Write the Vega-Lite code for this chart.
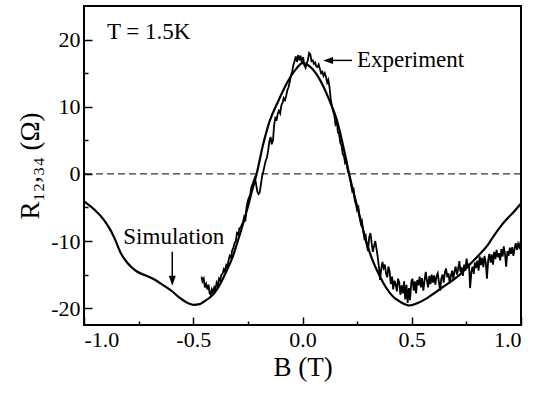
{
  "$schema": "https://vega.github.io/schema/vega-lite/v6.json",
  "width": 437,
  "height": 319,
  "autosize": "none",
  "padding": {"left": 84, "top": 6, "right": 21, "bottom": 76},
  "background": "white",
  "config": {
    "view": {"stroke": "black", "strokeWidth": 2},
    "font": "'Liberation Serif', 'Times New Roman', 'DejaVu Serif', serif",
    "axis": {"grid": false, "domain": false, "labelFont": "'Liberation Serif', 'Times New Roman', 'DejaVu Serif', serif", "titleFont": "'Liberation Serif', 'Times New Roman', 'DejaVu Serif', serif", "labelColor": "black", "titleColor": "black", "tickColor": "black", "tickWidth": 1.5, "titleFontWeight": "normal"}
  },
  "datasets": {
    "sim": [
      {"B": -1.00, "R": -4.1}, {"B": -0.95, "R": -5.4}, {"B": -0.91, "R": -6.8}, {"B": -0.88, "R": -8.3},
      {"B": -0.86, "R": -9.6}, {"B": -0.83, "R": -11.9}, {"B": -0.80, "R": -13.3}, {"B": -0.76, "R": -14.5},
      {"B": -0.72, "R": -15.1}, {"B": -0.68, "R": -15.7}, {"B": -0.65, "R": -16.3}, {"B": -0.60, "R": -17.4},
      {"B": -0.56, "R": -18.5}, {"B": -0.52, "R": -19.3}, {"B": -0.50, "R": -19.5}, {"B": -0.47, "R": -19.4},
      {"B": -0.45, "R": -19.0}, {"B": -0.42, "R": -18.3}, {"B": -0.40, "R": -17.6}, {"B": -0.37, "R": -16.0},
      {"B": -0.35, "R": -14.6}, {"B": -0.32, "R": -12.4}, {"B": -0.30, "R": -10.4}, {"B": -0.27, "R": -7.2},
      {"B": -0.25, "R": -4.9}, {"B": -0.23, "R": -2.4}, {"B": -0.21, "R": 0.0}, {"B": -0.18, "R": 4.4},
      {"B": -0.15, "R": 7.9}, {"B": -0.11, "R": 10.9}, {"B": -0.07, "R": 13.6}, {"B": -0.03, "R": 15.6},
      {"B": 0.00, "R": 16.5}, {"B": 0.04, "R": 15.8}, {"B": 0.08, "R": 14.0}, {"B": 0.12, "R": 11.2},
      {"B": 0.16, "R": 7.7}, {"B": 0.19, "R": 3.6}, {"B": 0.21, "R": 0.5}, {"B": 0.23, "R": -2.3},
      {"B": 0.25, "R": -4.8}, {"B": 0.27, "R": -7.4}, {"B": 0.29, "R": -9.9}, {"B": 0.32, "R": -12.8},
      {"B": 0.355, "R": -15.3}, {"B": 0.38, "R": -16.8}, {"B": 0.415, "R": -18.3}, {"B": 0.45, "R": -19.1},
      {"B": 0.49, "R": -19.6}, {"B": 0.53, "R": -19.2}, {"B": 0.57, "R": -18.5}, {"B": 0.61, "R": -17.6},
      {"B": 0.64, "R": -16.9}, {"B": 0.68, "R": -16.0}, {"B": 0.72, "R": -15.0}, {"B": 0.75, "R": -14.0},
      {"B": 0.78, "R": -13.0}, {"B": 0.81, "R": -12.0}, {"B": 0.83, "R": -11.3}, {"B": 0.85, "R": -10.5},
      {"B": 0.87, "R": -9.5}, {"B": 0.90, "R": -8.1}, {"B": 0.93, "R": -6.9}, {"B": 0.96, "R": -5.9},
      {"B": 1.00, "R": -4.4}
    ],
    "exp": [
      {"B": -0.462, "R": -15.3}, {"B": -0.458, "R": -16.0}, {"B": -0.452, "R": -15.6}, {"B": -0.447, "R": -16.9},
      {"B": -0.441, "R": -16.4}, {"B": -0.436, "R": -17.2}, {"B": -0.430, "R": -16.5}, {"B": -0.425, "R": -17.8},
      {"B": -0.420, "R": -18.0}, {"B": -0.415, "R": -17.2}, {"B": -0.410, "R": -17.6}, {"B": -0.404, "R": -16.9},
      {"B": -0.399, "R": -17.3}, {"B": -0.393, "R": -16.2}, {"B": -0.388, "R": -16.6}, {"B": -0.382, "R": -15.6},
      {"B": -0.377, "R": -15.9}, {"B": -0.371, "R": -15.0}, {"B": -0.366, "R": -14.9}, {"B": -0.360, "R": -14.2},
      {"B": -0.355, "R": -14.5}, {"B": -0.349, "R": -13.6}, {"B": -0.344, "R": -13.9}, {"B": -0.338, "R": -12.8},
      {"B": -0.333, "R": -12.2}, {"B": -0.327, "R": -12.5}, {"B": -0.322, "R": -11.4}, {"B": -0.316, "R": -11.0},
      {"B": -0.311, "R": -10.3}, {"B": -0.305, "R": -10.0}, {"B": -0.300, "R": -8.8}, {"B": -0.294, "R": -9.0},
      {"B": -0.289, "R": -8.1}, {"B": -0.283, "R": -8.0}, {"B": -0.278, "R": -7.6}, {"B": -0.272, "R": -7.2},
      {"B": -0.267, "R": -6.4}, {"B": -0.261, "R": -6.8}, {"B": -0.256, "R": -5.0}, {"B": -0.250, "R": -4.0},
      {"B": -0.245, "R": -3.5}, {"B": -0.240, "R": -3.2}, {"B": -0.234, "R": -2.0}, {"B": -0.229, "R": -1.6},
      {"B": -0.223, "R": -1.0}, {"B": -0.218, "R": -0.6}, {"B": -0.213, "R": -1.4}, {"B": -0.207, "R": -2.6},
      {"B": -0.201, "R": -3.0}, {"B": -0.196, "R": -2.8}, {"B": -0.190, "R": -1.5}, {"B": -0.185, "R": -0.4},
      {"B": -0.179, "R": 0.4}, {"B": -0.174, "R": 1.2}, {"B": -0.168, "R": 2.0}, {"B": -0.163, "R": 2.4},
      {"B": -0.157, "R": 3.5}, {"B": -0.152, "R": 4.8}, {"B": -0.146, "R": 5.5}, {"B": -0.141, "R": 4.4},
      {"B": -0.135, "R": 5.0}, {"B": -0.130, "R": 7.2}, {"B": -0.124, "R": 8.5}, {"B": -0.119, "R": 7.9},
      {"B": -0.113, "R": 9.0}, {"B": -0.108, "R": 9.4}, {"B": -0.102, "R": 9.0}, {"B": -0.097, "R": 10.2},
      {"B": -0.091, "R": 10.6}, {"B": -0.086, "R": 11.3}, {"B": -0.080, "R": 11.0}, {"B": -0.075, "R": 11.6},
      {"B": -0.069, "R": 12.5}, {"B": -0.064, "R": 12.9}, {"B": -0.058, "R": 13.8}, {"B": -0.053, "R": 14.6},
      {"B": -0.047, "R": 15.3}, {"B": -0.042, "R": 16.2}, {"B": -0.036, "R": 16.8}, {"B": -0.031, "R": 17.5},
      {"B": -0.025, "R": 16.7}, {"B": -0.020, "R": 17.7}, {"B": -0.014, "R": 16.9}, {"B": -0.009, "R": 17.6},
      {"B": -0.003, "R": 16.5}, {"B": 0.003, "R": 17.4}, {"B": 0.008, "R": 16.2}, {"B": 0.014, "R": 15.8},
      {"B": 0.019, "R": 16.4}, {"B": 0.025, "R": 17.0}, {"B": 0.030, "R": 18.0}, {"B": 0.036, "R": 17.8},
      {"B": 0.041, "R": 16.8}, {"B": 0.047, "R": 16.9}, {"B": 0.052, "R": 16.4}, {"B": 0.058, "R": 16.6},
      {"B": 0.063, "R": 16.0}, {"B": 0.069, "R": 15.9}, {"B": 0.074, "R": 16.3}, {"B": 0.080, "R": 15.6},
      {"B": 0.085, "R": 15.0}, {"B": 0.091, "R": 15.2}, {"B": 0.096, "R": 14.6}, {"B": 0.102, "R": 15.0},
      {"B": 0.107, "R": 14.5}, {"B": 0.113, "R": 13.6}, {"B": 0.118, "R": 14.0}, {"B": 0.124, "R": 12.8},
      {"B": 0.129, "R": 11.2}, {"B": 0.135, "R": 10.0}, {"B": 0.140, "R": 9.4}, {"B": 0.146, "R": 8.6},
      {"B": 0.151, "R": 7.4}, {"B": 0.157, "R": 7.8}, {"B": 0.162, "R": 6.2}, {"B": 0.168, "R": 5.9},
      {"B": 0.173, "R": 4.6}, {"B": 0.179, "R": 4.2}, {"B": 0.184, "R": 3.0}, {"B": 0.190, "R": 2.6},
      {"B": 0.195, "R": 1.6}, {"B": 0.201, "R": 1.9}, {"B": 0.206, "R": 0.6}, {"B": 0.212, "R": 0.0},
      {"B": 0.217, "R": -0.6}, {"B": 0.223, "R": -1.8}, {"B": 0.228, "R": -2.6}, {"B": 0.234, "R": -2.3},
      {"B": 0.239, "R": -3.9}, {"B": 0.245, "R": -4.6}, {"B": 0.250, "R": -5.4}, {"B": 0.256, "R": -5.0},
      {"B": 0.261, "R": -6.4}, {"B": 0.267, "R": -7.4}, {"B": 0.272, "R": -7.0}, {"B": 0.278, "R": -8.5},
      {"B": 0.283, "R": -9.6}, {"B": 0.289, "R": -9.2}, {"B": 0.294, "R": -10.6}, {"B": 0.300, "R": -11.5},
      {"B": 0.305, "R": -9.5}, {"B": 0.311, "R": -8.8}, {"B": 0.316, "R": -10.2}, {"B": 0.322, "R": -11.6},
      {"B": 0.327, "R": -10.8}, {"B": 0.333, "R": -10.0}, {"B": 0.338, "R": -11.0}, {"B": 0.344, "R": -12.3},
      {"B": 0.349, "R": -13.6}, {"B": 0.355, "R": -15.8}, {"B": 0.360, "R": -14.2}, {"B": 0.366, "R": -13.1},
      {"B": 0.371, "R": -14.0}, {"B": 0.377, "R": -13.5}, {"B": 0.382, "R": -14.8}, {"B": 0.388, "R": -15.4},
      {"B": 0.393, "R": -13.8}, {"B": 0.399, "R": -14.6}, {"B": 0.404, "R": -16.4}, {"B": 0.410, "R": -15.3},
      {"B": 0.415, "R": -17.2}, {"B": 0.421, "R": -15.9}, {"B": 0.426, "R": -16.4}, {"B": 0.432, "R": -17.5},
      {"B": 0.437, "R": -15.6}, {"B": 0.443, "R": -16.2}, {"B": 0.448, "R": -18.0}, {"B": 0.454, "R": -16.6},
      {"B": 0.459, "R": -17.8}, {"B": 0.465, "R": -16.0}, {"B": 0.470, "R": -18.7}, {"B": 0.476, "R": -16.5},
      {"B": 0.481, "R": -19.2}, {"B": 0.487, "R": -17.0}, {"B": 0.492, "R": -18.8}, {"B": 0.498, "R": -16.1},
      {"B": 0.503, "R": -15.6}, {"B": 0.509, "R": -17.4}, {"B": 0.514, "R": -16.0}, {"B": 0.520, "R": -17.8},
      {"B": 0.525, "R": -15.8}, {"B": 0.531, "R": -16.6}, {"B": 0.536, "R": -15.3}, {"B": 0.542, "R": -16.9},
      {"B": 0.547, "R": -15.5}, {"B": 0.553, "R": -17.4}, {"B": 0.558, "R": -16.0}, {"B": 0.564, "R": -14.6},
      {"B": 0.569, "R": -15.8}, {"B": 0.575, "R": -16.9}, {"B": 0.580, "R": -15.2}, {"B": 0.586, "R": -16.4},
      {"B": 0.591, "R": -15.0}, {"B": 0.597, "R": -16.2}, {"B": 0.602, "R": -15.1}, {"B": 0.608, "R": -16.5},
      {"B": 0.613, "R": -15.3}, {"B": 0.619, "R": -14.8}, {"B": 0.624, "R": -16.0}, {"B": 0.630, "R": -17.4},
      {"B": 0.635, "R": -15.6}, {"B": 0.641, "R": -15.0}, {"B": 0.646, "R": -16.2}, {"B": 0.652, "R": -14.6},
      {"B": 0.657, "R": -14.1}, {"B": 0.663, "R": -15.4}, {"B": 0.668, "R": -14.8}, {"B": 0.674, "R": -16.3},
      {"B": 0.679, "R": -15.2}, {"B": 0.685, "R": -14.4}, {"B": 0.690, "R": -15.6}, {"B": 0.696, "R": -14.5},
      {"B": 0.701, "R": -13.8}, {"B": 0.707, "R": -15.0}, {"B": 0.712, "R": -14.2}, {"B": 0.718, "R": -13.0},
      {"B": 0.723, "R": -14.6}, {"B": 0.729, "R": -13.9}, {"B": 0.734, "R": -15.2}, {"B": 0.740, "R": -13.5},
      {"B": 0.745, "R": -14.4}, {"B": 0.751, "R": -12.6}, {"B": 0.756, "R": -14.0}, {"B": 0.762, "R": -13.4},
      {"B": 0.767, "R": -17.0}, {"B": 0.773, "R": -14.6}, {"B": 0.778, "R": -13.8}, {"B": 0.784, "R": -14.9},
      {"B": 0.789, "R": -13.2}, {"B": 0.795, "R": -14.0}, {"B": 0.800, "R": -12.9}, {"B": 0.806, "R": -14.4},
      {"B": 0.811, "R": -12.3}, {"B": 0.817, "R": -13.6}, {"B": 0.822, "R": -12.5}, {"B": 0.828, "R": -13.9},
      {"B": 0.833, "R": -12.2}, {"B": 0.839, "R": -13.2}, {"B": 0.844, "R": -15.6}, {"B": 0.850, "R": -12.8},
      {"B": 0.855, "R": -11.9}, {"B": 0.861, "R": -13.2}, {"B": 0.866, "R": -12.0}, {"B": 0.872, "R": -13.5},
      {"B": 0.877, "R": -11.6}, {"B": 0.883, "R": -12.7}, {"B": 0.888, "R": -11.3}, {"B": 0.894, "R": -12.4},
      {"B": 0.899, "R": -11.8}, {"B": 0.905, "R": -12.9}, {"B": 0.910, "R": -11.2}, {"B": 0.916, "R": -12.3},
      {"B": 0.921, "R": -10.8}, {"B": 0.927, "R": -12.0}, {"B": 0.932, "R": -13.8}, {"B": 0.938, "R": -11.5},
      {"B": 0.943, "R": -12.2}, {"B": 0.949, "R": -11.0}, {"B": 0.954, "R": -11.9}, {"B": 0.960, "R": -10.9},
      {"B": 0.965, "R": -12.2}, {"B": 0.971, "R": -11.1}, {"B": 0.976, "R": -10.3}, {"B": 0.982, "R": -11.3},
      {"B": 0.987, "R": -10.4}, {"B": 0.993, "R": -10.9}, {"B": 0.999, "R": -10.0}
    ],
    "labels": [
      {"label": "T = 1.5K", "B": -0.895, "R": 21.2},
      {"label": "Experiment", "B": 0.249, "R": 16.9},
      {"label": "Simulation", "B": -0.82, "R": -9.4}
    ],
    "arrows": [
      {"B": -0.596, "R": -11.6, "B2": -0.596, "R2": -15.9},
      {"B": 0.117, "R": 16.9, "B2": 0.227, "R2": 16.9}
    ]
  },
  "encoding": {
    "x": {
      "field": "B", "type": "quantitative",
      "scale": {"domain": [-1, 1], "nice": false, "zero": false},
      "axis": {
        "title": "B (T)", "titleFontSize": 27, "titlePadding": 4,
        "values": [-1, -0.75, -0.5, -0.25, 0, 0.25, 0.5, 0.75, 1],
        "labelExpr": "abs(datum.value * 2 - round(datum.value * 2)) < 0.001 ? replace(format(datum.value, '.1f'), '\u2212', '-') : ''",
        "labelFontSize": 22, "labelPadding": 12,
        "tickSize": {"condition": {"test": "abs(datum.value * 2 - round(datum.value * 2)) < 0.001", "value": -8}, "value": -4}
      }
    },
    "y": {
      "field": "R", "type": "quantitative",
      "scale": {"domain": [-22.5, 25], "nice": false, "zero": false},
      "axis": {
        "title": "R\u2081\u2082,\u2083\u2084 (\u03a9)", "titleFontSize": 27, "titlePadding": 6,
        "values": [-20, -15, -10, -5, 0, 5, 10, 15, 20],
        "labelExpr": "datum.value % 10 == 0 ? replace(format(datum.value, 'd'), '\u2212', '-') : ''",
        "labelFontSize": 22, "labelPadding": 12,
        "tickSize": {"condition": {"test": "datum.value % 10 == 0", "value": -8}, "value": -4}
      }
    }
  },
  "layer": [
    {
      "data": {"values": [{"z": 0}]},
      "mark": {"type": "rule", "color": "black", "strokeWidth": 1, "strokeDash": [7, 4]},
      "encoding": {"y": {"field": "z", "type": "quantitative"}, "x": null}
    },
    {
      "data": {"name": "sim"},
      "mark": {"type": "line", "color": "black", "strokeWidth": 2.2, "interpolate": "monotone"}
    },
    {
      "data": {"name": "exp"},
      "mark": {"type": "line", "color": "black", "strokeWidth": 1.8}
    },
    {
      "data": {"name": "labels"},
      "mark": {"type": "text", "align": "left", "baseline": "middle", "fontSize": 23, "font": "'Liberation Serif', 'Times New Roman', 'DejaVu Serif', serif", "color": "black"},
      "encoding": {"text": {"field": "label"}}
    },
    {
      "data": {"name": "arrows"},
      "mark": {"type": "rule", "color": "black", "strokeWidth": 1.5},
      "encoding": {"x2": {"field": "B2"}, "y2": {"field": "R2"}}
    },
    {
      "data": {"values": [{"B": -0.596, "R": -15.9}]},
      "mark": {"type": "point", "filled": true, "color": "black", "opacity": 1, "size": 100, "shape": "M-0.7,-1L0.7,-1L0,1Z"}
    },
    {
      "data": {"values": [{"B": 0.117, "R": 16.9}]},
      "mark": {"type": "point", "filled": true, "color": "black", "opacity": 1, "size": 100, "shape": "M1,-0.7L1,0.7L-1,0Z"}
    }
  ]
}
